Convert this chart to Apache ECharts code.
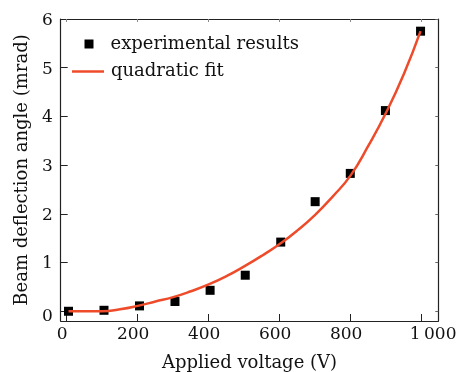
<!DOCTYPE html>
<html>
<head>
<meta charset="utf-8">
<script src="https://cdn.jsdelivr.net/npm/echarts@6/dist/echarts.min.js"></script>
<style>html,body{margin:0;padding:0;background:#fff;}#c{width:460px;height:372px;}</style>
</head>
<body>
<div id="c"></div>
<script>
// Measured data
var expX = [5, 105, 205, 305, 404, 503, 603, 700, 799, 898, 997];
var expY = [0.0, 0.02, 0.11, 0.20, 0.43, 0.74, 1.42, 2.25, 2.83, 4.12, 5.75];
var fitX = [5, 50, 100, 150, 200, 250, 300, 350, 400, 450, 500, 550, 600, 650, 700, 750, 800, 850, 900, 950, 997];
var fitY = [0.0, 0.0, 0.0, 0.04, 0.11, 0.2, 0.29, 0.41, 0.55, 0.72, 0.92, 1.14, 1.38, 1.66, 1.98, 2.36, 2.79, 3.4, 4.08, 4.87, 5.75];
var xTicks = [0, 200, 400, 600, 800, 1000];
var yTicks = [0, 1, 2, 3, 4, 5, 6];
var seriesNames = ['experimental results', 'quadratic fit'];
var xTitle = 'Applied voltage (V)';
var yTitle = 'Beam deflection angle (mrad)';

var FONT = 'DejaVu Serif';
var txt = '#111';
var axisColor = '#222';
var fitColor = '#ee4b2b';

function pairs(xs, ys) { return xs.map(function (x, i) { return [x, ys[i]]; }); }

var chart = echarts.init(document.getElementById('c'), null, { renderer: 'canvas' });
var xMin = -17, xMax = 1047, yMin = -0.2, yMax = 6;

chart.setOption({
  animation: false,
  backgroundColor: '#fff',
  grid: { left: 60.7, right: 21.7, top: 19, bottom: 51, containLabel: false, outerBoundsMode: 'none' },
  legend: [
    {
      data: [{ name: seriesNames[0], icon: 'rect' }],
      left: 84.5, top: 35, orient: 'vertical', padding: 0,
      itemWidth: 9, itemHeight: 9,
      textStyle: { fontFamily: FONT, fontSize: 18, color: txt, padding: [0, 0, 5, 12] }
    },
    {
      data: [{ name: seriesNames[1], icon: 'rect' }],
      left: 72, top: 62.5, orient: 'vertical', padding: 0,
      itemWidth: 32, itemHeight: 2.5,
      itemStyle: { color: fitColor },
      textStyle: { fontFamily: FONT, fontSize: 18, color: txt, padding: [0, 0, 3, 2] }
    }
  ],
  xAxis: [
    {
      type: 'value', min: xMin, max: xMax, position: 'bottom',
      name: xTitle, nameLocation: 'middle', nameGap: 33,
      nameTextStyle: { fontFamily: FONT, fontSize: 18, color: txt },
      axisLine: { show: true, onZero: false, lineStyle: { color: axisColor, width: 1.2 } },
      axisTick: { show: true, inside: true, length: 7, customValues: xTicks, lineStyle: { color: axisColor } },
      axisLabel: {
        show: true, margin: 5, customValues: xTicks,
        fontFamily: FONT, fontSize: 17, color: txt,
        formatter: function (v) {
          return v === 1000 ? '{a|1\u2009000}' : '{b|' + v + '}';
        },
        rich: {
          a: { fontFamily: FONT, fontSize: 17, color: txt, padding: [0, 0, 0, 23] },
          b: { fontFamily: FONT, fontSize: 17, color: txt, padding: [0, 9, 0, 0] }
        }
      },
      splitLine: { show: false }
    },
    {
      type: 'value', min: xMin, max: xMax, position: 'top',
      axisLine: { show: true, onZero: false, lineStyle: { color: axisColor, width: 1.2 } },
      axisTick: { show: true, inside: true, length: 3, customValues: xTicks, lineStyle: { color: '#888' } },
      axisLabel: { show: false },
      splitLine: { show: false }
    }
  ],
  yAxis: [
    {
      type: 'value', min: yMin, max: yMax, position: 'left',
      name: yTitle, nameLocation: 'middle', nameGap: 23, nameRotate: 90,
      nameTextStyle: { fontFamily: FONT, fontSize: 18, color: txt },
      axisLine: { show: true, onZero: false, lineStyle: { color: axisColor, width: 1.2 } },
      axisTick: { show: true, inside: true, length: 7, customValues: yTicks, lineStyle: { color: axisColor } },
      axisLabel: {
        show: true, margin: 8, customValues: yTicks,
        fontFamily: FONT, fontSize: 17, color: txt,
        formatter: function (v) { return v === 0 ? '{a|0}' : '{b|' + v + '}'; },
        rich: {
          a: { fontFamily: FONT, fontSize: 17, color: txt, padding: [11, 0, 0, 0] },
          b: { fontFamily: FONT, fontSize: 17, color: txt, padding: [3, 0, 0, 0] }
        }
      },
      splitLine: { show: false }
    },
    {
      type: 'value', min: yMin, max: yMax, position: 'right',
      axisLine: { show: true, onZero: false, lineStyle: { color: axisColor, width: 1.2 } },
      axisTick: { show: true, inside: true, length: 3, customValues: yTicks, lineStyle: { color: '#666' } },
      axisLabel: { show: false },
      splitLine: { show: false }
    }
  ],
  series: [
    {
      name: seriesNames[0], type: 'scatter', symbol: 'rect', symbolSize: 9,
      itemStyle: { color: '#000', opacity: 1 },
      data: pairs(expX, expY), z: 2
    },
    {
      name: seriesNames[1], type: 'line', smooth: true, symbol: 'none', showSymbol: false,
      lineStyle: { color: fitColor, width: 2.5 }, itemStyle: { color: fitColor },
      data: pairs(fitX, fitY), z: 3
    }
  ]
});
</script>
</body>
</html>
